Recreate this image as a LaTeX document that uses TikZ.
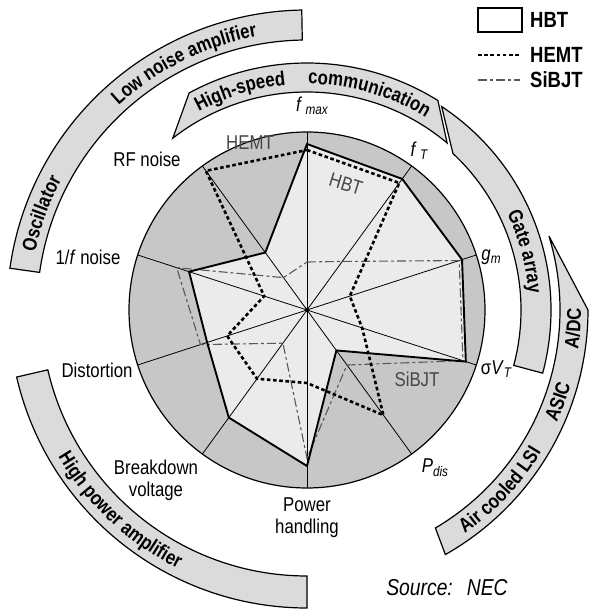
\documentclass[tikz,border=0pt]{standalone}
\usepackage{fontspec}
\setmainfont{Liberation Sans}[FakeStretch=0.84]
\usetikzlibrary{decorations.text}
\newcommand\bandfont{\bfseries\fontsize{20}{20}\selectfont}
\newcommand\labfont{\fontsize{20}{22}\selectfont}
\newcommand\subsz{\fontsize{14}{14}\selectfont}
\definecolor{ringfill}{gray}{0.78}
\definecolor{innerfill}{gray}{0.92}
\definecolor{bandfill}{gray}{0.86}
\begin{document}
\begin{tikzpicture}[x=1pt,y=1pt,
  band/.style={fill=bandfill,draw=black,line width=1.2pt,line join=miter},
  bandtext/.style={decorate,decoration={text along path,text align=center,text={|\bandfont|#1}}},
  spoke/.style={line width=0.8pt},
  hbt/.style={line width=1.9pt,line join=miter},
  hemt/.style={line width=2.6pt,dash pattern=on 3.6pt off 2.6pt},
  sibjt/.style={line width=1.1pt,black!65,dash pattern=on 9pt off 3pt on 3pt off 3pt},
  lab/.style={font=\labfont,inner sep=0pt},
  inlab/.style={font=\labfont,text=black!72,inner sep=0pt},
  legtext/.style={font=\bfseries\fontsize{22}{22}\selectfont,anchor=west,inner sep=0pt}]
\useasboundingbox (0,0) rectangle (589,611);
\begin{scope}[shift={(307,301)}]
  % outer application bands
  \filldraw[band] (172:270pt) -- (172:300pt) arc[start angle=172,end angle=91,radius=300pt]
     -- (91:270pt) arc[start angle=91,end angle=172,radius=270pt] -- cycle;
  \filldraw[band] (128:218pt) -- (118.5:247pt) arc[start angle=118.5,end angle=58,radius=247pt]
     -- (50:218pt) arc[start angle=50,end angle=128,radius=218pt] -- cycle;
  \filldraw[band] (56.5:244pt) arc[start angle=56.5,end angle=-15,radius=244pt]
     -- (-15:214pt) arc[start angle=-15,end angle=47,radius=214pt] -- cycle;
  \filldraw[band] (17:253pt) -- (0:281pt) arc[start angle=0,end angle=-60.5,radius=281pt]
     -- (-59.5:253pt) arc[start angle=-59.5,end angle=17,radius=253pt] -- cycle;
  \filldraw[band] (-167:266pt) -- (-167:298pt) arc[start angle=-167,end angle=-90,radius=298pt]
     -- (-90:266pt) arc[start angle=-90,end angle=-167,radius=266pt] -- cycle;
  % band texts
  \path[bandtext=Oscillator] (185:278pt) arc[start angle=185,end angle=135,radius=278pt];
  \path[bandtext=Low noise amplifier] (150:278pt) arc[start angle=150,end angle=83,radius=278pt];
  \path[bandtext=High-speed] (125:226pt) arc[start angle=125,end angle=89,radius=226pt];
  \path[bandtext=communication] (96:226pt) arc[start angle=96,end angle=52,radius=226pt];
  \path[bandtext=Gate array] (43:222pt) arc[start angle=43,end angle=-13,radius=222pt];
  \path[bandtext=A/DC] (-22:274pt) arc[start angle=-22,end angle=14,radius=274pt];
  \path[bandtext=ASIC] (-38:274pt) arc[start angle=-38,end angle=-2,radius=274pt];
  \path[bandtext=Air cooled LSI] (-75:274pt) arc[start angle=-75,end angle=-11,radius=274pt];
  \path[bandtext=High power amplifier] (-165:289pt) arc[start angle=-165,end angle=-101,radius=289pt];
  % polygon vertices
  \coordinate (hb1) at (90:166pt);  \coordinate (hb2) at (54:162pt);
  \coordinate (hb3) at (18:163pt);  \coordinate (hb4) at (-18:167pt);
  \coordinate (hb5) at (-54:50pt);  \coordinate (hb6) at (-90:156pt);
  \coordinate (hb7) at (-126:133pt);\coordinate (hb8) at (-162:105pt);
  \coordinate (hb9) at (162:124pt); \coordinate (hb10) at (126:71pt);
  \coordinate (he1) at (90:160pt);  \coordinate (he2) at (54:157pt);
  \coordinate (he3) at (18:45pt);   \coordinate (he4) at (-18:58pt);
  \coordinate (he5) at (-54:130pt); \coordinate (he6) at (-90:73pt);
  \coordinate (he7) at (-126:85pt); \coordinate (he8) at (-162:84pt);
  \coordinate (he9) at (162:45pt);  \coordinate (he10) at (126:172pt);
  \coordinate (si1) at (90:48pt);   \coordinate (si2) at (54:60pt);
  \coordinate (si3) at (18:160pt);  \coordinate (si4) at (-18:164pt);
  \coordinate (si5) at (-54:68pt);  \coordinate (si6) at (-90:148pt);
  \coordinate (si7) at (-126:41pt); \coordinate (si8) at (-162:112pt);
  \coordinate (si9) at (162:137pt); \coordinate (si10) at (126:40pt);
  % chart disc
  \fill[ringfill] (0,0) circle[radius=178pt];
  \fill[innerfill] (hb1) -- (hb2) -- (hb3) -- (hb4) -- (hb5) -- (hb6) -- (hb7) -- (hb8) -- (hb9) -- (hb10) -- cycle;
  \foreach \a in {90,54,18,-18,-54}
    \draw[spoke] (\a:178pt) -- (\a+180:178pt);
  \fill (0,0) circle[radius=2.2pt];
  \draw[line width=1.2pt] (0,0) circle[radius=178pt];
  \draw[sibjt] (si1) -- (si2) -- (si3) -- (si4) -- (si5) -- (si6) -- (si7) -- (si8) -- (si9) -- (si10) -- cycle;
  \draw[hemt] (he1) -- (he2) -- (he3) -- (he4) -- (he5) -- (he6) -- (he7) -- (he8) -- (he9) -- (he10) -- cycle;
  \draw[hbt] (hb1) -- (hb2) -- (hb3) -- (hb4) -- (hb5) -- (hb6) -- (hb7) -- (hb8) -- (hb9) -- (hb10) -- cycle;
\end{scope}
% axis labels
\node[lab] (lfmax) at (312,505) {\textit{f}\,\raisebox{-3pt}{\subsz\itshape max}};
\node[lab] (lft) at (419,460) {\textit{f}\,\raisebox{-3pt}{\subsz\itshape T}};
\node[lab] (lgm) at (491,354) {\textit{g}\raisebox{-3pt}{\subsz\itshape m}};
\node[lab] (lsvt) at (496,242) {σ\textit{V}\raisebox{-3pt}{\subsz\itshape T}};
\node[lab] (lpdis) at (435,143) {\textit{P}\raisebox{-4pt}{\subsz\itshape dis}};
\node[lab,align=center] (lpow) at (307,93) {Power\\handling};
\node[lab,align=center] (lbrk) at (156,131) {Breakdown\\voltage};
\node[lab] (ldist) at (97,241) {Distortion};
\node[lab] (lonef) at (88,354) {1/\textit{f} noise};
\node[lab] (lrf) at (147,452) {RF noise};
% curve labels inside the chart
\node[inlab] (themt) at (250,468) {HEMT};
\node[inlab,rotate=-17] (thbt) at (346,427) {HBT};
\node[inlab] (tsi) at (417,232) {SiBJT};
% legend
\draw[line width=1.6pt] (478,579) rectangle (522,603);
\node[legtext] (lghbt) at (530,591) {HBT};
\draw[hemt] (478,556) -- (520,556);
\node[legtext] (lghemt) at (530,556) {HEMT};
\draw[sibjt] (478,531) -- (520,531);
\node[legtext] (lgsi) at (530,531) {SiBJT};
\node[font=\itshape\fontsize{23}{23}\selectfont,inner sep=0pt] (src) at (447,23) {Source:\hspace{0.3em} NEC};
\end{tikzpicture}
\end{document}
